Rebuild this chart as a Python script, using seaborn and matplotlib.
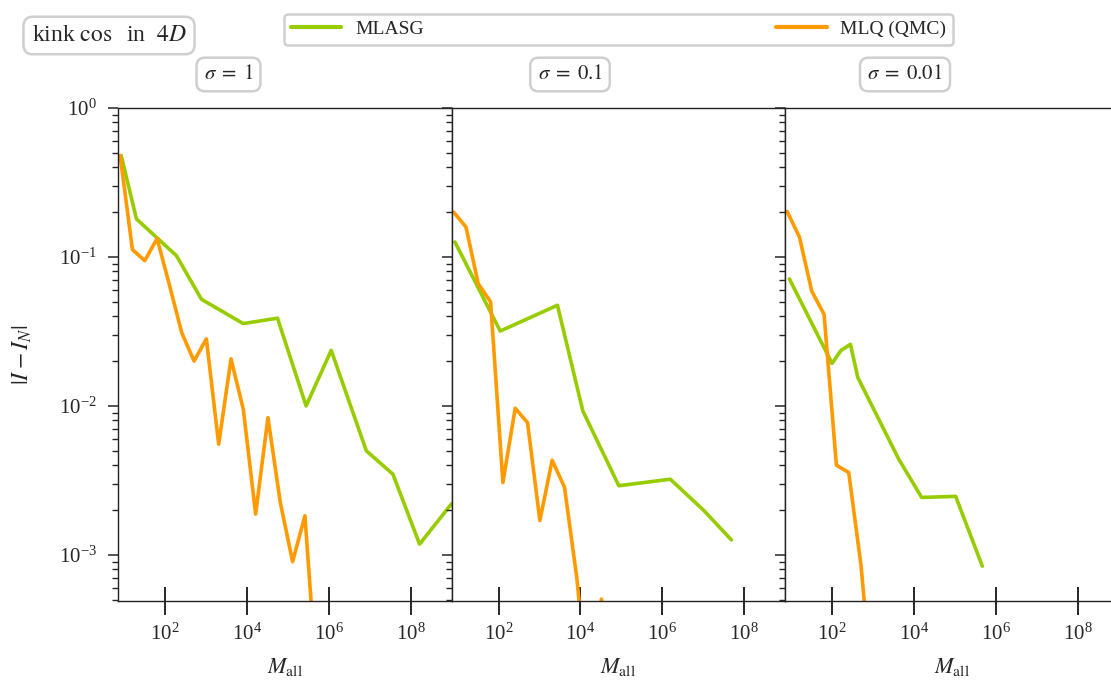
import numpy as np
import pandas as pd
import seaborn as sns
import matplotlib.pyplot as plt
from matplotlib.lines import Line2D
from matplotlib.ticker import LogLocator, NullLocator, NullFormatter

# --- valores ---
sigma_labels = [r'$\sigma\;=\;1$', r'$\sigma\;=\;0.1$', r'$\sigma\;=\;0.01$']
method_names = ['MLASG', 'MLQ (QMC)']
xtick_vals = [1e2, 1e4, 1e6, 1e8]

# sigma = 1
mlasg_m_1 = [8.5, 20, 190, 776, 8130, 5.6e4, 2.8e5, 1.15e6, 8.3e6, 3.7e7, 1.66e8, 1.0e9]
mlasg_err_1 = [0.48, 0.18, 0.102, 0.052, 0.0357, 0.0388, 0.0100, 0.0236, 0.00499, 0.00348, 0.00118, 0.0022]
qmc_m_1 = [8, 16, 32, 64, 128, 256, 512, 1024, 2048, 4096, 8192, 16384, 32768, 65536, 131072, 262144, 524288]
qmc_err_1 = [0.48, 0.112, 0.0944, 0.133, 0.065, 0.031, 0.020, 0.0282, 0.00553, 0.0207, 0.00948,
             0.00188, 0.00834, 0.00225, 0.0009, 0.00183, 0.00013]

# sigma = 0.1
mlasg_m_2 = [8.6, 110, 2750, 11500, 87000, 1.58e6, 1.05e7, 4.9e7]
mlasg_err_2 = [0.126, 0.0318, 0.0474, 0.00925, 0.00291, 0.00322, 0.00198, 0.00126]
qmc_m_2 = [8, 16, 32, 64, 128, 256, 512, 1024, 2048, 4096, 8192, 16384, 32768, 65536]
qmc_err_2 = [0.2, 0.159, 0.066, 0.050, 0.00306, 0.00964, 0.00772, 0.0017, 0.00432, 0.00284,
             0.0007, 0.0001, 0.000505, 0.0001]

# sigma = 0.01
mlasg_m_3 = [9.1, 100, 166, 282, 427, 4270, 15500, 1.05e5, 4.7e5]
mlasg_err_3 = [0.0712, 0.0193, 0.0236, 0.0259, 0.0155, 0.00439, 0.00243, 0.00247, 0.00084]
qmc_m_3 = [8, 16, 32, 64, 128, 256, 512, 1024]
qmc_err_3 = [0.202, 0.136, 0.0589, 0.0411, 0.0040, 0.00357, 0.000847, 0.0001]

paineis = [
    (mlasg_m_1, mlasg_err_1, qmc_m_1, qmc_err_1),
    (mlasg_m_2, mlasg_err_2, qmc_m_2, qmc_err_2),
    (mlasg_m_3, mlasg_err_3, qmc_m_3, qmc_err_3),
]
palette = {'MLASG': '#97cc00', 'MLQ (QMC)': '#ff9a00'}

# --- estilo ---
sns.set_style('ticks')
plt.rcParams['font.family'] = ['Liberation Serif', 'DejaVu Serif']
plt.rcParams['mathtext.fontset'] = 'stix'
plt.rcParams['axes.linewidth'] = 1.0
plt.rcParams['axes.edgecolor'] = '#222222'

W, H = 1111, 684
fig = plt.figure(figsize=(W / 100, H / 100), dpi=100)

ax_w = 333.5 / W
ax_h = 493 / H
ax_b = (H - 601) / H
lefts = [118 / W, 451.5 / W, 785 / W]

axes = []
for i, (m_a, e_a, m_q, e_q) in enumerate(paineis):
    ax = fig.add_axes([lefts[i], ax_b, ax_w, ax_h], sharey=axes[0] if axes else None)
    df = pd.concat([
        pd.DataFrame({'M': m_a, 'err': e_a, 'method': 'MLASG'}),
        pd.DataFrame({'M': m_q, 'err': e_q, 'method': 'MLQ (QMC)'}),
    ], ignore_index=True)
    sns.lineplot(data=df, x='M', y='err', hue='method', palette=palette, estimator=None,
                 sort=False, lw=2.6, legend=False, ax=ax)
    ax.set_xscale('log')
    ax.set_yscale('log')
    ax.set_xlim(7.1, 1.0e9)
    ax.set_ylim(4.9e-4, 1.0)
    ax.set_xticks(xtick_vals)
    ax.xaxis.set_minor_locator(NullLocator())
    ax.yaxis.set_major_locator(LogLocator(base=10))
    ax.yaxis.set_minor_locator(LogLocator(base=10, subs=np.arange(2, 10)))
    ax.yaxis.set_minor_formatter(NullFormatter())
    ax.tick_params(axis='x', which='major', direction='inout', length=20, width=1.4,
                   labelsize=15, pad=6)
    ax.tick_params(axis='y', which='major', direction='out', length=7, width=1.1,
                   labelsize=15, pad=8)
    ax.tick_params(axis='y', which='minor', direction='out', length=4.5, width=1.0)
    ax.set_xlabel(r'$M_{\mathrm{all}}$', fontsize=16, labelpad=8)
    if i == 0:
        ax.set_ylabel(r'$|I - I_N|$', fontsize=17, labelpad=18)
    else:
        ax.set_ylabel('')
        ax.tick_params(axis='y', which='both', labelleft=False)
    axes.append(ax)

# caixas de texto
caixa = dict(boxstyle='round,pad=0.35,rounding_size=0.4', fc='white', ec='#cfcfcf', lw=1.8)
fig.text(109 / W, 1 - 35.5 / H, r'kink $\cos$  in  $4D$', fontsize=17,
         ha='center', va='center', bbox=caixa)
for xc, lab in zip([228.5, 570, 905], sigma_labels):
    fig.text(xc / W, 1 - 74.5 / H, lab, fontsize=15, ha='center', va='center', bbox=caixa)

# legenda
handles = [Line2D([], [], color=palette[m], lw=3.0) for m in method_names]
leg = fig.legend(handles, method_names, loc='lower left', ncol=2, mode='expand',
                 bbox_to_anchor=(284 / W, 1 - 45 / H, (953 - 284) / W, 33 / H),
                 fontsize=14, handlelength=2.6, handletextpad=0.7, borderpad=0.35,
                 borderaxespad=0, frameon=True, fancybox=True)
leg.get_frame().set_edgecolor('#cfcfcf')
leg.get_frame().set_linewidth(1.8)
leg.get_frame().set_alpha(1)

plt.savefig('out.png', dpi=100)
plt.close()
